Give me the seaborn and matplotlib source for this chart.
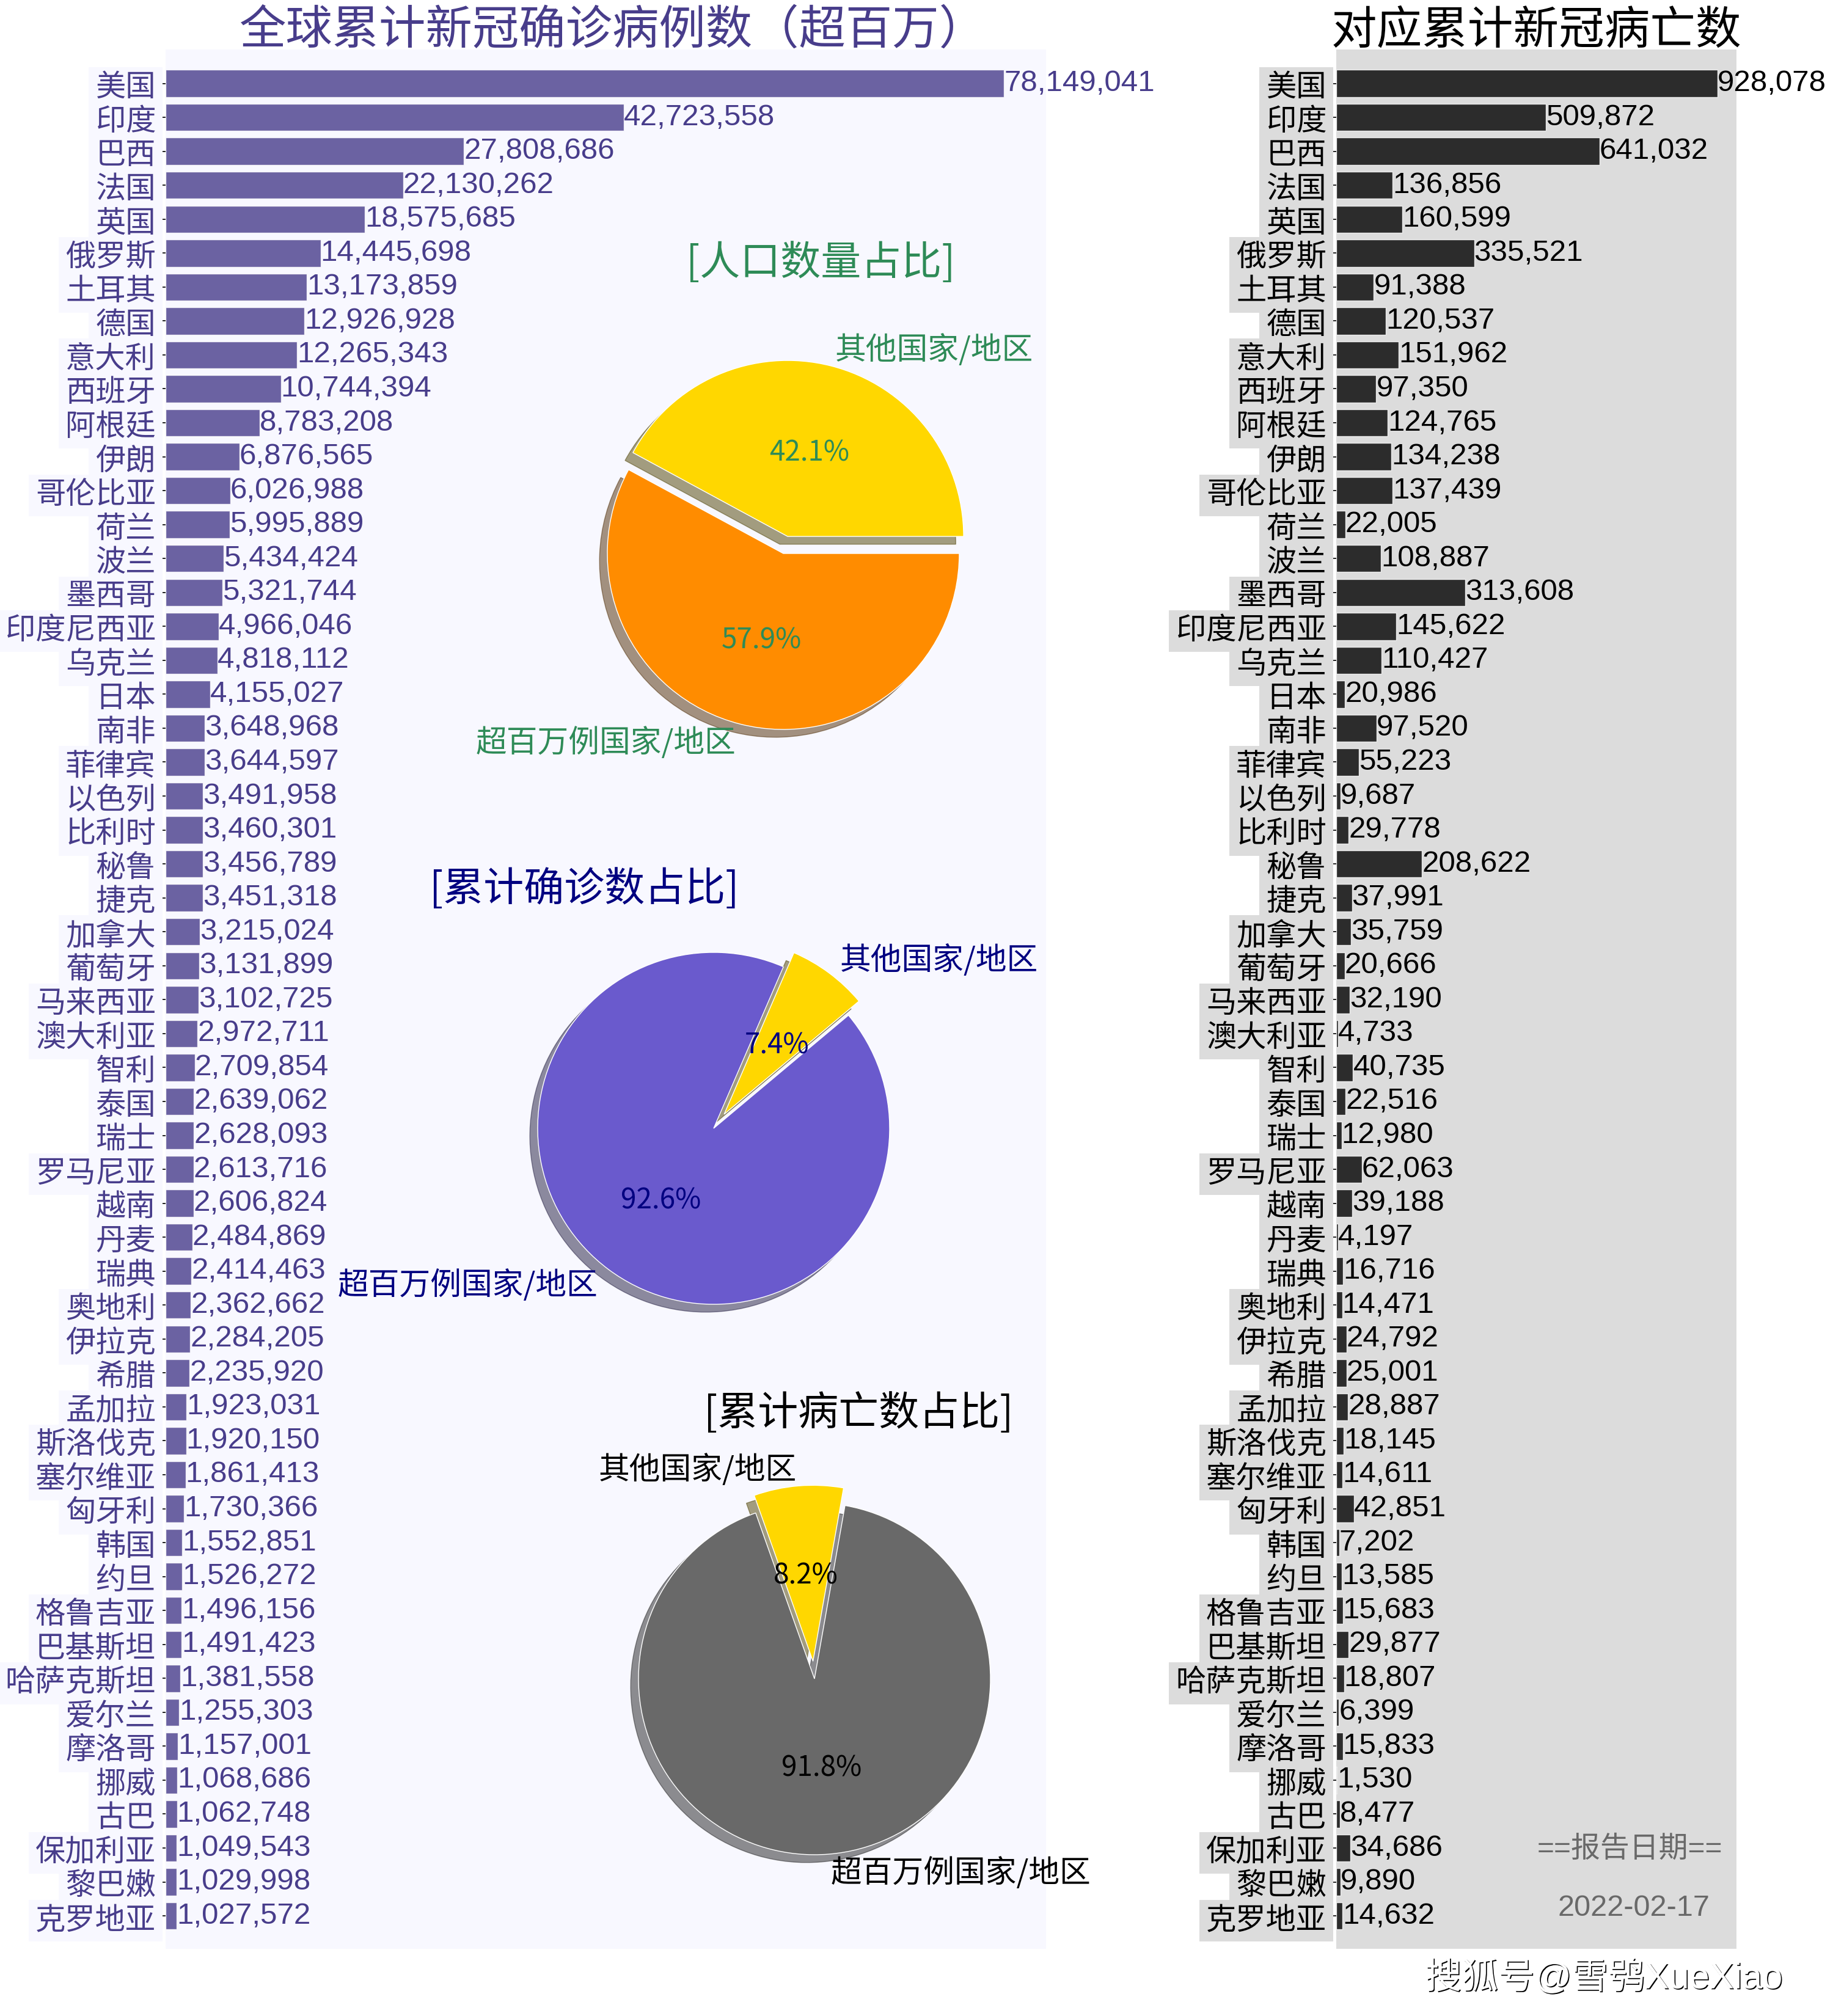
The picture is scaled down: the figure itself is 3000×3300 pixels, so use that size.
import matplotlib
matplotlib.use("Agg")
import matplotlib.pyplot as plt
import matplotlib.patheffects as pe
from matplotlib.transforms import ScaledTranslation
import seaborn as sns

countries = ['美国', '印度', '巴西', '法国', '英国', '俄罗斯', '土耳其', '德国', '意大利', '西班牙', '阿根廷',
             '伊朗', '哥伦比亚', '荷兰', '波兰', '墨西哥', '印度尼西亚', '乌克兰', '日本', '南非', '菲律宾',
             '以色列', '比利时', '秘鲁', '捷克', '加拿大', '葡萄牙', '马来西亚', '澳大利亚', '智利', '泰国',
             '瑞士', '罗马尼亚', '越南', '丹麦', '瑞典', '奥地利', '伊拉克', '希腊', '孟加拉', '斯洛伐克',
             '塞尔维亚', '匈牙利', '韩国', '约旦', '格鲁吉亚', '巴基斯坦', '哈萨克斯坦', '爱尔兰', '摩洛哥',
             '挪威', '古巴', '保加利亚', '黎巴嫩', '克罗地亚']
confirmed = [78149041, 42723558, 27808686, 22130262, 18575685, 14445698, 13173859, 12926928, 12265343,
             10744394, 8783208, 6876565, 6026988, 5995889, 5434424, 5321744, 4966046, 4818112, 4155027,
             3648968, 3644597, 3491958, 3460301, 3456789, 3451318, 3215024, 3131899, 3102725, 2972711,
             2709854, 2639062, 2628093, 2613716, 2606824, 2484869, 2414463, 2362662, 2284205, 2235920,
             1923031, 1920150, 1861413, 1730366, 1552851, 1526272, 1496156, 1491423, 1381558, 1255303,
             1157001, 1068686, 1062748, 1049543, 1029998, 1027572]
deaths = [928078, 509872, 641032, 136856, 160599, 335521, 91388, 120537, 151962, 97350, 124765, 134238,
          137439, 22005, 108887, 313608, 145622, 110427, 20986, 97520, 55223, 9687, 29778, 208622, 37991,
          35759, 20666, 32190, 4733, 40735, 22516, 12980, 62063, 39188, 4197, 16716, 14471, 24792, 25001,
          28887, 18145, 14611, 42851, 7202, 13585, 15683, 29877, 18807, 6399, 15833, 1530, 8477, 34686,
          9890, 14632]

pie_labels = ['其他国家/地区', '超百万例国家/地区']
population_share = [42.1, 57.9]
confirmed_share = [7.4, 92.6]
deaths_share = [8.2, 91.8]

W, H = 3000, 3300
CJK = 'Noto Sans CJK SC'

sns.set_theme(style='white')
plt.rcParams['font.family'] = ['Liberation Sans', CJK]
plt.rcParams['axes.unicode_minus'] = False

fig = plt.figure(figsize=(W / 100, H / 100), dpi=100, facecolor='white')
# the CJK text sits a little lower than Noto's own centring puts it
nudge = ScaledTranslation(0, -3 / 100, fig.dpi_scale_trans)


def box(left, top, right, bottom):
    # pixel box -> figure fractions
    return [left / W, 1 - bottom / H, (right - left) / W, (bottom - top) / H]


def bar_panel(rect, values, title, color, bg, title_size, title_x):
    ax = fig.add_axes(box(*rect), facecolor=bg)
    sns.barplot(x=values, y=countries, color=color, alpha=0.8, saturation=1, width=0.8, ax=ax)
    ax.set_xlim(0, max(values) * 1.05)
    ax.set_ylim(54.97, -1)
    ax.set_xticks([])
    ax.set_xlabel('')
    ax.set_ylabel('')
    sns.despine(ax=ax, left=True, bottom=True)
    ax.tick_params(axis='y', left=True, length=3.5, width=1.2, color='black', pad=8, labelsize=35.5, labelcolor=color)
    for lab in ax.get_yticklabels():
        lab.set_bbox(dict(facecolor=bg, edgecolor='none', pad=8))
        lab.set_transform(lab.get_transform() + nudge)
    for i, v in enumerate(values):
        ax.text(v, i, f'{v:,}', color=color, fontsize=35.5, ha='left', va='center')
    ax.set_title(title, fontsize=title_size, color=color, pad=7, family=CJK, x=title_x, y=1.0)
    return ax


bar_panel((271, 81, 1712, 3190), confirmed, '全球累计新冠确诊病例数（超百万）', 'darkslateblue', 'ghostwhite', 55, 0.508)
bar_panel((2187, 81, 2842, 3190), deaths, '对应累计新冠病亡数', 'black', 'gainsboro', 53.7, 0.5)


def pie_panel(cx, cy, shares, colors, text_color, start, title, title_xy):
    r = 288
    half = r * 1.25
    ax = fig.add_axes(box(cx - half, cy - half, cx + half, cy + half))
    ax.patch.set_alpha(0)
    _, texts, autotexts = ax.pie(shares, labels=pie_labels, colors=colors, explode=(0.1, 0), startangle=start,
                                 shadow=dict(ox=-0.032, oy=-0.032), autopct='%.1f%%', pctdistance=0.5,
                                 textprops=dict(color=text_color, fontsize=36.5, family=CJK))
    for t in autotexts:
        t.set_fontsize(33)
    for t in texts + autotexts:
        t.set_transform(t.get_transform() + nudge)
    fig.text(title_xy[0] / W, 1 - title_xy[1] / H, title, color=text_color, fontsize=47.5, family=CJK,
             ha='center', va='center')


pie_panel(1282, 906, population_share, ['gold', 'darkorange'], 'seagreen', 0, '[人口数量占比]', (1343, 431))
pie_panel(1168, 1847, confirmed_share, ['gold', 'slateblue'], 'navy', 40, '[累计确诊数占比]', (956, 1456))
pie_panel(1333, 2748, deaths_share, ['gold', 'dimgray'], 'black', 80, '[累计病亡数占比]', (1405, 2314))

fig.text(2667 / W, 1 - 3027 / H, '==报告日期==', color='dimgray', fontsize=34.5, ha='center', va='center')
fig.text(2674 / W, 1 - 3123 / H, '2022-02-17', color='dimgray', fontsize=35, ha='center', va='center')

fig.text(2625 / W, 1 - 3237 / H, '搜狐号@雪鸮XueXiao', color='white', fontsize=43, ha='center', va='center',
         path_effects=[pe.withSimplePatchShadow(offset=(1.2, -1.2), shadow_rgbFace='black', alpha=1)])

plt.savefig('out.png', dpi=100)
